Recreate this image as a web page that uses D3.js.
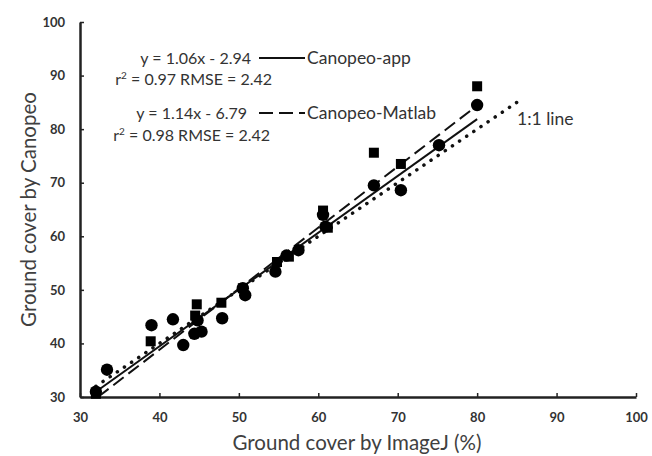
<!DOCTYPE html>
<html>
<head>
<meta charset="utf-8">
<script src="https://d3js.org/d3.v7.min.js"></script>
<style>
  body { margin: 0; background: #fff; }
  svg text { font-family: Lato, "Open Sans", sans-serif; }
</style>
</head>
<body>
<div id="chart"></div>
<script>
// Canopeo-app (circles)
const appX = [32, 33.4, 39, 41.7, 43, 44.4, 45.3, 44.8, 47.9, 50.5, 50.8, 54.6, 56, 57.5, 60.6, 60.9, 67, 70.4, 75.2, 80];
const appY = [31, 35.1, 43.4, 44.5, 39.7, 41.8, 42.2, 44.3, 44.7, 50.3, 49, 53.4, 56.4, 57.4, 64, 61.8, 69.5, 68.6, 77, 84.5];
// Canopeo-Matlab (squares)
const matX = [32, 38.9, 44.5, 44.7, 47.8, 50.5, 54.8, 56.3, 60.6, 61.2, 67, 70.4, 80];
const matY = [30.6, 40.4, 45.2, 47.3, 47.6, 50.3, 55.2, 56.2, 64.8, 61.6, 75.6, 73.5, 88];

const xTicks = [30, 40, 50, 60, 70, 80, 90, 100];
const yTicks = [30, 40, 50, 60, 70, 80, 90, 100];

// fitted lines: slope, intercept, x range
const fitApp = { a: 1.06, b: -2.94, x0: 32, x1: 80 };
const fitMat = { a: 1.14, b: -6.79, x0: 32.3, x1: 80 };
const oneToOne = [32, 85];

const width = 652, height = 456;
const margin = { l: 80, r: 16, t: 22, b: 59 };

const svg = d3.select("#chart").append("svg")
    .attr("width", width)
    .attr("height", height);

const x = d3.scaleLinear().domain([30, 100]).range([margin.l, width - margin.r]);
const y = d3.scaleLinear().domain([30, 100]).range([height - margin.b, margin.t]);

// axes
const xAxis = svg.append("g")
    .attr("transform", `translate(0,${y(30)})`)
    .call(d3.axisBottom(x).tickValues(xTicks).tickSizeInner(-4).tickSizeOuter(0).tickPadding(16));
const yAxis = svg.append("g")
    .attr("transform", `translate(${x(30)},0)`)
    .call(d3.axisLeft(y).tickValues(yTicks).tickSizeInner(-4).tickSizeOuter(0).tickPadding(17));

[xAxis, yAxis].forEach(g => {
  g.select(".domain").attr("stroke", "#222").attr("stroke-width", 2.5);
  g.selectAll(".tick line").attr("stroke", "#222").attr("stroke-width", 1.5);
  g.selectAll(".tick text")
    .attr("font-size", 13)
    .attr("font-weight", "bold")
    .attr("fill", "#333");
});
yAxis.selectAll(".tick text").attr("dx", 2);

// axis titles
svg.append("text")
    .attr("x", 357).attr("y", 450)
    .attr("text-anchor", "middle")
    .attr("font-size", 20.5)
    .attr("fill", "#404040")
    .text("Ground cover by ImageJ (%)");

svg.append("text")
    .attr("transform", `translate(36,${(y(30) + y(100)) / 2}) rotate(-90)`)
    .attr("text-anchor", "middle")
    .attr("font-size", 20.5)
    .attr("fill", "#404040")
    .text("Ground cover by Canopeo");

// lines
const line = d3.line().x(d => x(d[0])).y(d => y(d[1]));

svg.append("path")
    .datum(oneToOne.map(v => [v, v]))
    .attr("d", line)
    .attr("stroke", "#111")
    .attr("stroke-width", 3.5)
    .attr("stroke-linecap", "round")
    .attr("stroke-dasharray", "0.1 8.5")
    .attr("fill", "none");

svg.append("path")
    .datum([[fitMat.x0, fitMat.a * fitMat.x0 + fitMat.b], [fitMat.x1, fitMat.a * fitMat.x1 + fitMat.b]])
    .attr("d", line)
    .attr("stroke", "#111")
    .attr("stroke-width", 2)
    .attr("stroke-dasharray", "13 6")
    .attr("fill", "none");

svg.append("path")
    .datum([[fitApp.x0, fitApp.a * fitApp.x0 + fitApp.b], [fitApp.x1, fitApp.a * fitApp.x1 + fitApp.b]])
    .attr("d", line)
    .attr("stroke", "#111")
    .attr("stroke-width", 2)
    .attr("fill", "none");

// markers
svg.selectAll(".sq")
  .data(d3.zip(matX, matY))
  .enter().append("rect")
    .attr("class", "sq")
    .attr("x", d => x(d[0]) - 5)
    .attr("y", d => y(d[1]) - 5)
    .attr("width", 10)
    .attr("height", 10)
    .attr("fill", "#000");

svg.selectAll(".dot")
  .data(d3.zip(appX, appY))
  .enter().append("circle")
    .attr("class", "dot")
    .attr("cx", d => x(d[0]))
    .attr("cy", d => y(d[1]))
    .attr("r", 6.2)
    .attr("fill", "#000");

// annotations
const ann = svg.append("g").attr("font-size", 16).attr("fill", "#333");
ann.append("text").attr("x", 251).attr("y", 64).attr("text-anchor", "end").text("y = 1.06x - 2.94");
ann.append("text").attr("x", 272).attr("y", 85).attr("text-anchor", "end")
   .html('r<tspan dy="-6" font-size="10">2</tspan><tspan dy="6"> = 0.97 RMSE = 2.42</tspan>');
ann.append("text").attr("x", 247).attr("y", 119).attr("text-anchor", "end").text("y = 1.14x - 6.79");
ann.append("text").attr("x", 270).attr("y", 141).attr("text-anchor", "end")
   .html('r<tspan dy="-6" font-size="10">2</tspan><tspan dy="6"> = 0.98 RMSE = 2.42</tspan>');
ann.append("text").attr("x", 307).attr("y", 64).attr("font-size", 17.5).text("Canopeo-app");
ann.append("text").attr("x", 307).attr("y", 119).attr("font-size", 17.5).text("Canopeo-Matlab");
ann.append("text").attr("x", 517).attr("y", 125).attr("font-size", 17.5).text("1:1 line");

svg.append("line").attr("x1", 259).attr("x2", 305).attr("y1", 58).attr("y2", 58)
   .attr("stroke", "#111").attr("stroke-width", 2);
svg.append("line").attr("x1", 259).attr("x2", 305).attr("y1", 113).attr("y2", 113)
   .attr("stroke", "#111").attr("stroke-width", 2).attr("stroke-dasharray", "14 6");
</script>
</body>
</html>
